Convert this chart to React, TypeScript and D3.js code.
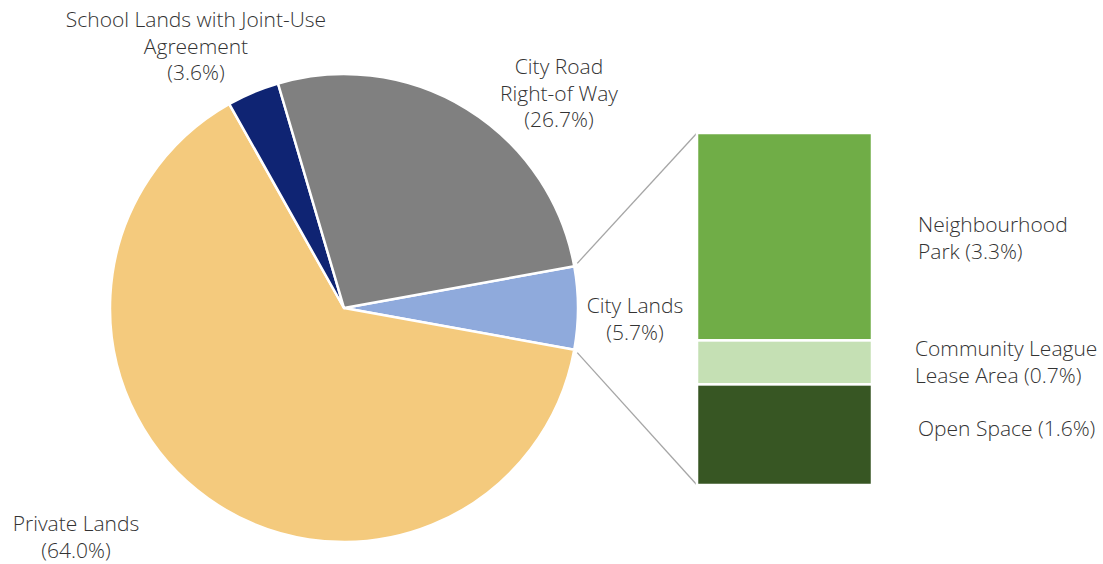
import React from "react";
import * as d3 from "d3";

const pieNames = ["City Lands", "Private Lands", "School Lands", "City Road"];
const pieValues = [5.7, 64.0, 3.6, 26.7];
const pieColors = ["#8FAADC", "#F4CA7D", "#0F2473", "#808080"];
const pieLabels: { lines: string[]; x: number; y: number }[] = [
  { lines: ["City Lands", "(5.7%)"], x: 635, y: 313 },
  { lines: ["Private Lands", "(64.0%)"], x: 76, y: 531 },
  { lines: ["School Lands with Joint-Use", "Agreement", "(3.6%)"], x: 196, y: 27 },
  { lines: ["City Road", "Right-of Way", "(26.7%)"], x: 559, y: 74 },
];

const barNames = ["Neighbourhood Park", "Community League Lease Area", "Open Space"];
const barValues = [3.3, 0.7, 1.6];
const barColors = ["#70AD47", "#C5E0B4", "#375623"];
const barLabels: { lines: string[]; x: number; y: number }[] = [
  { lines: ["Neighbourhood", "Park (3.3%)"], x: 918, y: 232 },
  { lines: ["Community League", "Lease Area (0.7%)"], x: 915, y: 356 },
  { lines: ["Open Space (1.6%)"], x: 918, y: 436 },
];

const W = 1103;
const H = 564;
const cx = 344;
const cy = 308;
const R = 234;
const LH = 26.5;
const font = "'Open Sans', sans-serif";
const textColor = "#333333";

export default function App() {
  const total = d3.sum(pieValues);
  const firstAngle = (pieValues[0] / total) * 2 * Math.PI;
  const start = Math.PI / 2 - firstAngle / 2;
  const pie = d3
    .pie<number>()
    .sort(null)
    .startAngle(start)
    .endAngle(start + 2 * Math.PI)
    .padAngle(0);
  const arcs = pie(pieValues);
  const arcGen = d3.arc<d3.PieArcDatum<number>>().innerRadius(0).outerRadius(R);

  const barX = 697;
  const barW = 175;
  const barTop = 133;
  const barBottom = 485;
  const barTotal = d3.sum(barValues);
  const y = d3.scaleLinear().domain([0, barTotal]).range([barTop, barBottom]);
  let acc = 0;
  const segs = barValues.map((v, i) => {
    const s = { y0: y(acc), y1: y(acc + v), color: barColors[i], name: barNames[i] };
    acc += v;
    return s;
  });

  const city = arcs[0];
  const pt = (a: number) => [cx + R * Math.sin(a), cy - R * Math.cos(a)];
  const pTop = pt(city.startAngle);
  const pBot = pt(city.endAngle);

  const renderLabel = (l: { lines: string[]; x: number; y: number }, anchor: string, key: string) => (
    <text key={key} x={l.x} y={l.y} textAnchor={anchor} fontFamily={font} fontWeight={300} fontSize={21} fill={textColor}>
      {l.lines.map((ln, j) => (
        <tspan key={j} x={l.x} y={l.y + j * LH}>
          {ln}
        </tspan>
      ))}
    </text>
  );

  return (
    <svg width={W} height={H} style={{ position: "absolute", left: 0, top: 0, background: "#fff" }}>
      <g transform={`translate(${cx},${cy})`}>
        {arcs.map((a, i) => (
          <path key={pieNames[i]} d={arcGen(a) || ""} fill={pieColors[i]} stroke="#fff" strokeWidth={2.5} strokeLinejoin="round" />
        ))}
      </g>
      <line x1={pTop[0] + 3} y1={pTop[1] - 3} x2={barX} y2={barTop} stroke="#a6a6a6" strokeWidth={1.3} />
      <line x1={pBot[0] + 3} y1={pBot[1] + 3} x2={barX} y2={barBottom} stroke="#a6a6a6" strokeWidth={1.3} />
      {segs.map((s) => (
        <rect key={s.name} x={barX} y={s.y0} width={barW} height={s.y1 - s.y0} fill={s.color} stroke="#fff" strokeWidth={2.5} />
      ))}
      {pieLabels.map((l, i) => renderLabel(l, "middle", "p" + i))}
      {barLabels.map((l, i) => renderLabel(l, "start", "b" + i))}
    </svg>
  );
}
